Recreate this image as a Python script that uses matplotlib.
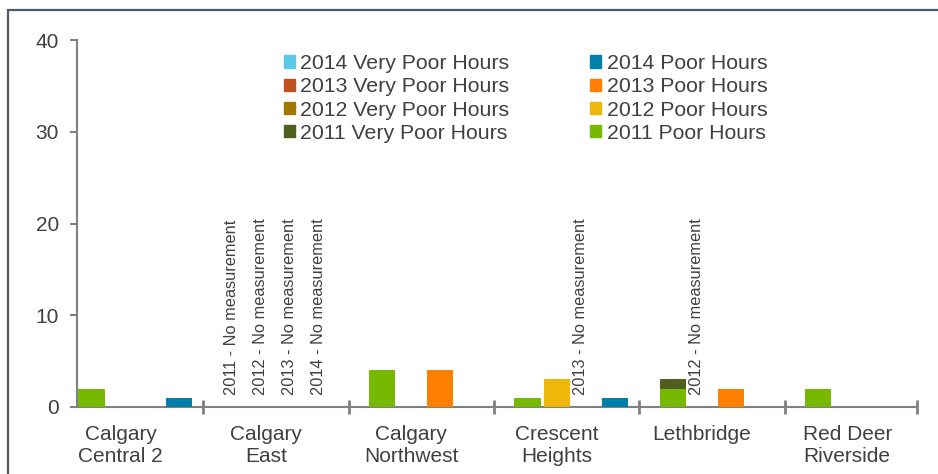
import matplotlib
matplotlib.use("Agg")
from matplotlib import pyplot as plt
from matplotlib.patches import Rectangle, Patch
import numpy as np

plt.rcParams['font.family'] = ['Liberation Sans', 'DejaVu Sans']

# Data
stations = ['Calgary\nCentral 2', 'Calgary\nEast', 'Calgary\nNorthwest',
            'Crescent\nHeights', 'Lethbridge', 'Red Deer\nRiverside']
years = [2011, 2012, 2013, 2014]

poor_2011 = [2, 0, 4, 1, 2, 2]
poor_2012 = [0, 0, 0, 3, 0, 0]
poor_2013 = [0, 0, 4, 0, 2, 0]
poor_2014 = [1, 0, 0, 1, 0, 0]

very_poor_2011 = [0, 0, 0, 0, 1, 0]
very_poor_2012 = [0, 0, 0, 0, 0, 0]
very_poor_2013 = [0, 0, 0, 0, 0, 0]
very_poor_2014 = [0, 0, 0, 0, 0, 0]

# (station index, year) pairs without measurements
no_measurement = [(1, 2011), (1, 2012), (1, 2013), (1, 2014), (3, 2013), (4, 2012)]

poor = [poor_2011, poor_2012, poor_2013, poor_2014]
very_poor = [very_poor_2011, very_poor_2012, very_poor_2013, very_poor_2014]

poor_colors = ['#76B900', '#EDB80A', '#FF7F00', '#0080A8']
very_poor_colors = ['#4E5F1E', '#A07800', '#C0501F', '#5BC8E8']

TEXT = '#404040'
AXIS = '#808080'

fig = plt.figure(figsize=(9.38, 4.74), dpi=100)
ax = fig.add_axes([77 / 938, 1 - 407 / 474, (917 - 77) / 938, (407 - 40) / 474])

x = np.arange(len(stations))
step = 0.2
width = 0.18
offsets = [-1.5 * step, -0.5 * step, 0.5 * step, 1.5 * step]

for i, yr in enumerate(years):
    ax.bar(x + offsets[i], poor[i], width, color=poor_colors[i], zorder=3)
    ax.bar(x + offsets[i], very_poor[i], width, bottom=poor[i],
           color=very_poor_colors[i], zorder=3)

for st, yr in no_measurement:
    xi = st + offsets[years.index(yr)] - 0.035
    ax.text(xi, 1.3, f'{yr} - No measurement', rotation=90, ha='center',
            va='bottom', fontsize=11.8, color=TEXT)

ax.set_xlim(-0.4, 5.38)
ax.set_ylim(0, 40)
ax.set_yticks([0, 10, 20, 30, 40])

ax.set_xticks(x - 0.1)
ax.set_xticklabels(stations, fontsize=15, color=TEXT, linespacing=1.2)
ax.tick_params(axis='x', which='major', length=0, pad=13)
ax.set_xticks(list(x[:-1] + 0.47) + [5.38], minor=True)
ax.tick_params(axis='x', which='minor', direction='inout', length=9.5,
               width=2, color=AXIS)
ax.tick_params(axis='y', labelsize=15, labelcolor=TEXT, length=5, width=1.5,
               color=AXIS, pad=8)

for s in ['top', 'right']:
    ax.spines[s].set_visible(False)
for s in ['left', 'bottom']:
    ax.spines[s].set_color(AXIS)
    ax.spines[s].set_linewidth(1.5)

handles = [Patch(color=c) for c in very_poor_colors[::-1]] + \
          [Patch(color=c) for c in poor_colors[::-1]]
labels = [f'{yr} Very Poor Hours' for yr in years[::-1]] + \
         [f'{yr} Poor Hours' for yr in years[::-1]]
fig.legend(handles, labels, ncol=2, frameon=False, fontsize=15.3,
           loc='upper left', bbox_to_anchor=(284 / 938, 1 - 54 / 474),
           borderpad=0, borderaxespad=0, handlelength=0.52, handleheight=0.52,
           handletextpad=0.25, columnspacing=3.8, labelspacing=0.2,
           labelcolor=TEXT)

# outer frame of the chart
fig.patches.append(Rectangle((8 / 938, -0.2), 1.2, 1.2 - 10 / 474,
                             transform=fig.transFigure, fill=False,
                             edgecolor='#4F5B66', linewidth=1.6))

fig.savefig('out.png', dpi=100)
